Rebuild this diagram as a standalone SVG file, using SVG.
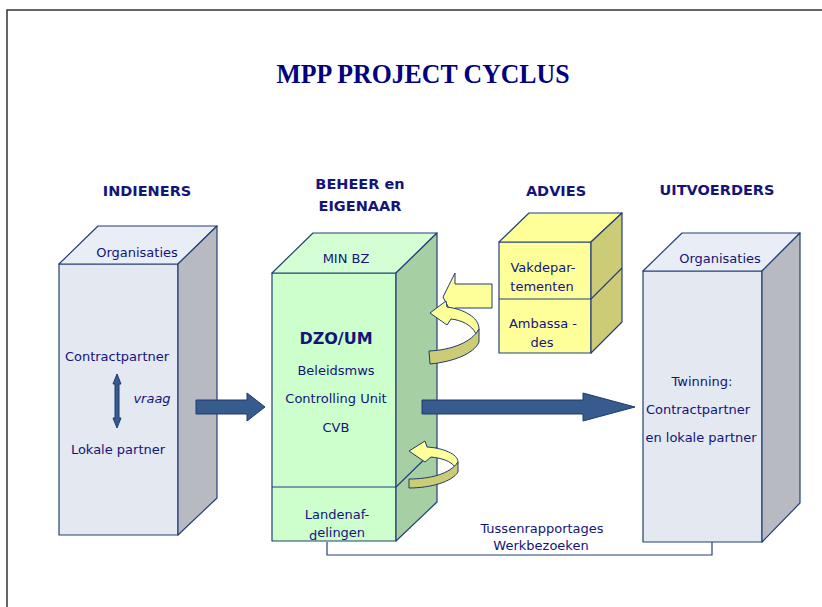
<svg xmlns="http://www.w3.org/2000/svg" width="822" height="607" viewBox="0 0 822 607">
<style>
  text { font-family: "DejaVu Sans", "Liberation Sans", sans-serif; fill: #14147a; font-size: 13px; text-anchor: middle; }
  .hdr { font-weight: bold; font-size: 14.5px; }
  .title { font-family: "Liberation Serif", "DejaVu Serif", serif; font-size: 28px; font-weight: bold; fill: #000080; }
  .edge { stroke: #253f7a; stroke-width: 1.2; stroke-linejoin: round; }
  .gF { fill: #e3e8f1; } .gT { fill: #e9edf5; } .gS { fill: #b7bac1; }
  .nF { fill: #ccffcc; } .nT { fill: #d4ffd4; } .nS { fill: #a6cfa4; }
  .yF { fill: #ffff99; } .yS { fill: #cccc77; }
  .blue { fill: #375b8c; stroke: #1f3a6e; stroke-width: 1; }
  .curlL { fill: #ffff99; stroke: #1f3a6e; stroke-width: 1; stroke-linejoin: round; }
  .curlD { fill: #cccc77; stroke: #1f3a6e; stroke-width: 1; stroke-linejoin: round; }
</style>

<path d="M7 607 V10 H822" fill="none" stroke="#333" stroke-width="1.5"/>

<text class="title" x="423" y="83" textLength="293" lengthAdjust="spacingAndGlyphs">MPP PROJECT CYCLUS</text>

<g id="indieners">
  <text class="hdr" x="147" y="196">INDIENERS</text>
  <rect class="gF edge" x="59" y="264" width="119" height="271"/>
  <polygon class="gT edge" points="59,264 98,226 217,226 178,264"/>
  <polygon class="gS edge" points="178,264 217,226 217,498 178,535"/>
  <text x="137" y="257">Organisaties</text>
  <text x="117" y="361">Contractpartner</text>
  <text x="118" y="454">Lokale partner</text>
  <text x="152" y="403" style="font-style:italic">vraag</text>
  <polygon class="blue" points="117,374 121,384 119,384 119,418 121,418 117,428 113,418 115,418 115,384 113,384"/>
</g>

<g id="beheer">
  <text class="hdr" x="360" y="189">BEHEER en</text>
  <text class="hdr" x="360" y="211">EIGENAAR</text>
  <rect class="nF edge" x="272" y="273" width="124" height="268"/>
  <polygon class="nT edge" points="272,273 313,233 437,233 396,273"/>
  <polygon class="nS edge" points="396,273 437,233 437,502 396,541"/>
  <path class="edge" d="M272 487 H396 L437 447" fill="none"/>
  <text x="346" y="263">MIN BZ</text>
  <text x="336" y="344" style="font-weight:bold;font-size:16px">DZO/UM</text>
  <text x="336" y="375">Beleidsmws</text>
  <text x="336" y="403">Controlling Unit</text>
  <text x="336" y="432">CVB</text>
  <text x="337" y="519">Landenaf-</text>
  <text x="337" y="537"><tspan dy="3">d</tspan><tspan dy="-3">elingen</tspan></text>
</g>

<g id="advies">
  <text class="hdr" x="556" y="196">ADVIES</text>
  <rect class="yF edge" x="499" y="242" width="92" height="111"/>
  <polygon class="yF edge" points="499,242 529,213 622,213 591,242"/>
  <polygon class="yS edge" points="591,242 622,213 622,322 591,353"/>
  <path class="edge" d="M499 299 H591 L622 268" fill="none"/>
  <text x="543" y="272">Vakdepar-</text>
  <text x="542" y="291">tementen</text>
  <text x="543" y="328">Ambassa -</text>
  <text x="542" y="347">des</text>
</g>

<g id="uitvoerders">
  <text class="hdr" x="717" y="195">UITVOERDERS</text>
  <rect class="gF edge" x="643" y="271" width="119" height="271"/>
  <polygon class="gT edge" points="643,271 682,233 800,233 762,271"/>
  <polygon class="gS edge" points="762,271 800,233 800,503 762,542"/>
  <text x="720" y="263">Organisaties</text>
  <text x="702" y="386">Twinning:</text>
  <text x="698" y="414">Contractpartner</text>
  <text x="701" y="442">en lokale partner</text>
</g>

<g id="connectors">
  <polygon class="blue" points="196,400 247,400 247,393 265,407 247,421 247,414 196,414"/>
  <polygon class="blue" points="422,400 583,400 583,393 635,407 583,421 583,414 422,414"/>
  <polygon class="curlL" points="492,284 455,284 455,273 443,297 455,320 455,308 492,308"/>
  <path class="curlL" d="M430 313 L446 301 L447 307 C463 309 479 317 479 329 L476 334 C472 325 461 320 451 319 L447 325 Z"/>
  <path class="curlD" d="M429 351 C452 350 472 342 479 329 L479 342 C474 354 452 362 430 364 Z"/>
  <path class="curlL" d="M409 451 L425 441 L427 447 C443 448 458 454 458 462 L455 467 C451 461 441 458 431 457 L425 462 Z"/>
  <path class="curlD" d="M409 479 C430 479 450 474 458 462 L458 472 C452 482 430 488 409 488 Z"/>
  <path d="M327 542 V555 H712 V542" fill="none" stroke="#253f7a" stroke-width="1.2"/>
  <text x="542" y="533">Tussenrapportages</text>
  <text x="541" y="550">Werkbezoeken</text>
</g>
</svg>
